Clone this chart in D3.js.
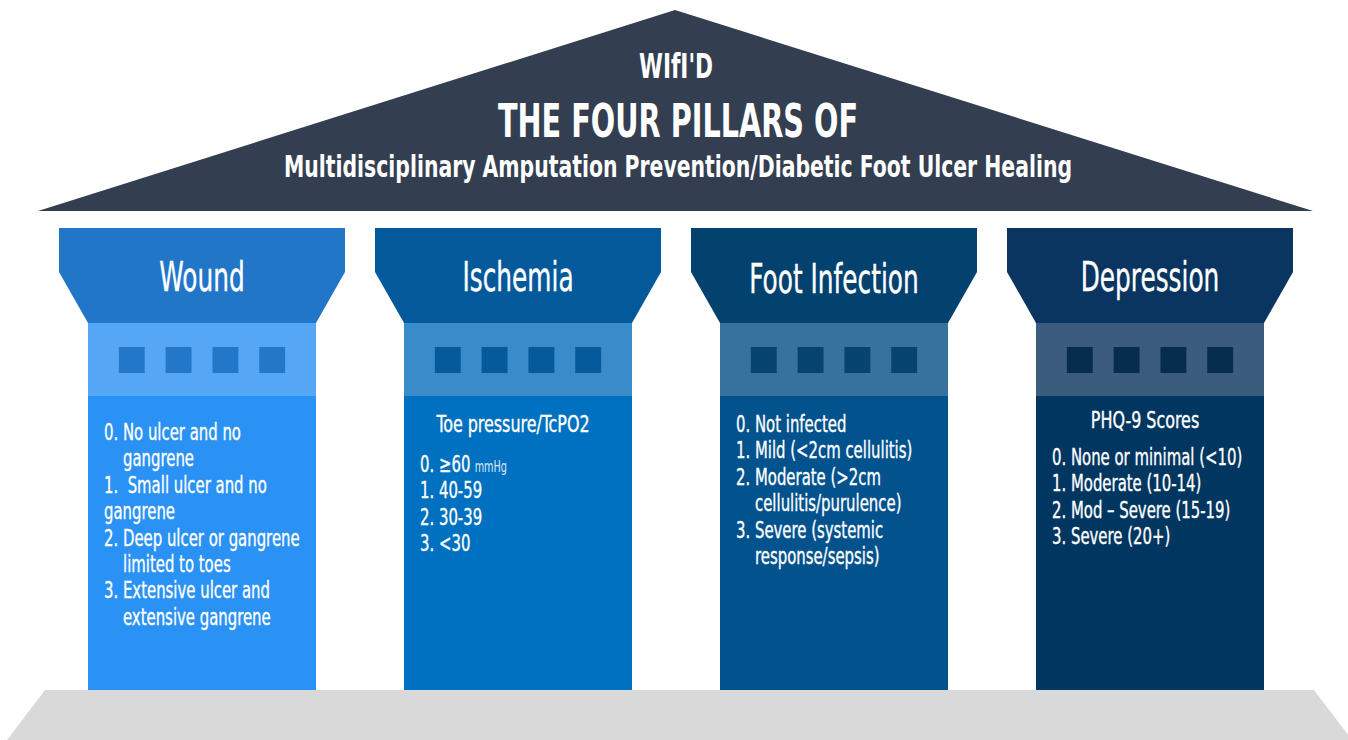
<!DOCTYPE html>
<html>
<head>
<meta charset="utf-8">
<script src="https://d3js.org/d3.v7.min.js"></script>
<style>
  html, body { margin: 0; padding: 0; background: #fff; }
  svg { display: block; }
  text { font-family: "Liberation Sans Narrow", "DejaVu Sans Condensed", sans-serif; fill: #fff; white-space: pre; }
  .body { stroke: #fff; stroke-width: 0.35; }
</style>
</head>
<body>
<div id="container"></div>
<script>
// titles
const acronym  = "WIfI'D";
const title    = "THE FOUR PILLARS OF";
const subtitle = "Multidisciplinary Amputation Prevention/Diabetic Foot Ulcer Healing";

// pillars (left to right)
const pillars   = ["Wound", "Ischemia", "Foot Infection", "Depression"];
const subheads  = ["", "Toe pressure/TcPO2", "", "PHQ-9 Scores"];
// "\t" = continuation line (indented)
const pillarLines = [
  ["0. No ulcer and no", "\tgangrene", "1.  Small ulcer and no", "gangrene",
   "2. Deep ulcer or gangrene", "\tlimited to toes", "3. Extensive ulcer and", "\textensive gangrene"],
  ["0. \u226560|mmHg", "1. 40-59", "2. 30-39", "3. <30"],
  ["0. Not infected", "1. Mild (<2cm cellulitis)", "2. Moderate (>2cm", "\tcellulitis/purulence)",
   "3. Severe (systemic", "\tresponse/sepsis)"],
  ["0. None or minimal (<10)", "1. Moderate (10-14)", "2. Mod \u2013 Severe (15-19)", "3. Severe (20+)"]
];

// colours per pillar
const capColors   = ["#2176c8", "#04599b", "#03426f", "#0a3560"];
const bandColors  = ["#55a7f6", "#3a8bc9", "#37729f", "#3b5c7c"];
const blockColors = ["#2277c9", "#045a9a", "#07436f", "#062c4e"];
const shaftColors = ["#2a91f5", "#0070c0", "#02528e", "#003660"];
const roofColor = "#333e50";
const baseColor = "#d9d9d9";

const W = 1348, H = 740;
const svg = d3.select('#container').append('svg')
  .attr('width', W).attr('height', H);

// layout
const L = {
  roofTop: 10, roofBase: 211,
  capTop: 228, capStraight: 272, capBottom: 323,
  bandBottom: 396, blockTop: 347, blockSize: 26,
  shaftBottom: 690, baseBottom: 740,
  headY: 291, subY: 432, lineH: 26.4,
  bodyY: [440, 472, 432, 465]
};

const x = d3.scaleBand().domain(pillars).range([59, 1293]).paddingInner(30 / 316).paddingOuter(0);
const capInset = 29;           // taper of capital
const blocks = d3.scaleBand().domain(d3.range(4)).paddingInner(0.447).paddingOuter(0.66);

function label(g, px, py, str, size, sx, anchor, cls) {
  return g.append('text')
    .attr('class', cls || null)
    .attr('transform', `translate(${px},${py}) scale(${sx},1)`)
    .attr('text-anchor', anchor || 'start')
    .attr('font-size', size)
    .text(str);
}

// base
const [r0, r1] = x.range();
svg.append('path')
  .attr('d', d3.line()([[r0 - 14, L.shaftBottom], [r1 + 21, L.shaftBottom], [r1 + 59, L.baseBottom], [r0 - 52, L.baseBottom]]) + 'Z')
  .attr('fill', baseColor);

// roof
svg.append('path')
  .attr('d', d3.line()([[(r0 + r1) / 2 - 1, L.roofTop], [r1 + 20, L.roofBase], [r0 - 21, L.roofBase]]) + 'Z')
  .attr('fill', roofColor);

const cx = (r0 + r1) / 2;
svg.append('text').attr('x', cx).attr('y', 78).attr('text-anchor', 'middle')
  .attr('font-size', 34).attr('font-weight', 'bold')
  .attr('textLength', 74).attr('lengthAdjust', 'spacingAndGlyphs').text(acronym);
svg.append('text').attr('x', cx + 2).attr('y', 137).attr('text-anchor', 'middle')
  .attr('font-size', 47).attr('font-weight', 'bold')
  .attr('textLength', 360).attr('lengthAdjust', 'spacingAndGlyphs').text(title);
svg.append('text').attr('x', cx + 2).attr('y', 177).attr('text-anchor', 'middle')
  .attr('font-size', 30).attr('font-weight', 'bold')
  .attr('textLength', 788).attr('lengthAdjust', 'spacingAndGlyphs').text(subtitle);

// pillars
pillars.forEach((name, i) => {
  const g = svg.append('g');
  const x0 = x(name), x1 = x0 + x.bandwidth();
  const s0 = x0 + capInset, s1 = x1 - capInset;

  g.append('rect').attr('x', s0).attr('y', L.capBottom - 1)
    .attr('width', s1 - s0).attr('height', L.shaftBottom - L.capBottom + 1)
    .attr('fill', shaftColors[i]);
  g.append('rect').attr('x', s0).attr('y', L.capBottom - 1)
    .attr('width', s1 - s0).attr('height', L.bandBottom - L.capBottom + 1)
    .attr('fill', bandColors[i]);

  blocks.range([s0, s1]);
  g.selectAll('rect.block').data(d3.range(4)).join('rect')
    .attr('class', 'block')
    .attr('x', d => blocks(d)).attr('y', L.blockTop)
    .attr('width', blocks.bandwidth()).attr('height', L.blockSize)
    .attr('fill', blockColors[i]);

  g.append('path')
    .attr('d', d3.line()([[x0, L.capTop], [x1, L.capTop], [x1, L.capStraight], [s1, L.capBottom], [s0, L.capBottom], [x0, L.capStraight]]) + 'Z')
    .attr('fill', capColors[i]);

  const mid = (x0 + x1) / 2;
  label(g, mid, L.headY + (name === "Foot Infection" ? 2 : 0), name, 40, 0.69, 'middle', 'body');

  if (subheads[i]) label(g, mid - 5, L.subY - (i === 3 ? 4 : 0), subheads[i], 23, 0.77, 'middle', 'body');

  const tx = s0 + 16;
  pillarLines[i].forEach((ln, j) => {
    const indent = ln.startsWith('\t');
    const str = ln.replace('\t', '');
    const py = L.bodyY[i] + j * L.lineH;
    if (str.includes('|')) {
      const [a, b] = str.split('|');
      const t = label(g, tx, py, a, 23, 0.72, 'start', 'body');
      t.append('tspan').attr('font-size', 15).attr('dx', 6).attr('stroke-width', 0)
        .attr('fill', '#dce9f6').text(b);
    } else {
      label(g, tx + (indent ? 19 : 0), py, str, 23, 0.72, 'start', 'body');
    }
  });
});
</script>
</body>
</html>
